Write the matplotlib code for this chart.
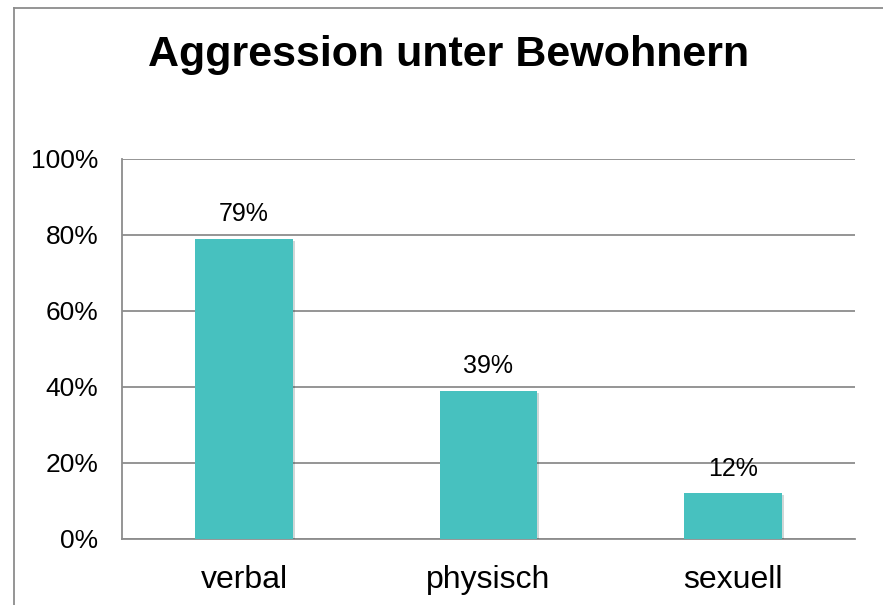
import matplotlib.pyplot as plt
from matplotlib.lines import Line2D
import matplotlib.patheffects as pe

plt.rcParams['font.family'] = ['Liberation Sans', 'DejaVu Sans']

categories = ["verbal", "physisch", "sexuell"]
values = [79, 39, 12]
yticks = [0, 20, 40, 60, 80, 100]

W, H = 883, 605
fig = plt.figure(figsize=(W / 100, H / 100), dpi=100)
ax = fig.add_axes([122 / W, 66 / H, 733 / W, 380 / H])

grid_col = "#8c8c8c"
bars = ax.bar(range(len(categories)), values, width=0.4, color="#47C1BF", zorder=3)
for b in bars:
    b.set_path_effects([pe.SimplePatchShadow(offset=(1.5, -1.5), alpha=0.2), pe.Normal()])

for i, v in enumerate(values):
    ax.text(i, v + 3.3, f"{v}%", ha="center", va="bottom", fontsize=18)

ax.set_xlim(-0.5, len(categories) - 0.5)
ax.set_ylim(0, 100)
ax.set_yticks(yticks)
ax.set_yticklabels([f"{t}%" for t in yticks], fontsize=19)
ax.set_xticks(range(len(categories)))
ax.set_xticklabels(categories, fontsize=23)
ax.tick_params(axis="y", length=0, pad=17)
ax.tick_params(axis="x", length=0, pad=19)
ax.yaxis.grid(True, color=grid_col, linewidth=1.3, zorder=0)
for s in ["top", "right"]:
    ax.spines[s].set_visible(False)
for s in ["left", "bottom"]:
    ax.spines[s].set_color(grid_col)
    ax.spines[s].set_linewidth(1.3)

fig.text(449 / W, 1 - 55 / H, "Aggression unter Bewohnern", ha="center", va="center",
         fontsize=31, fontweight="bold")

# outer frame (only top and left edges are visible)
fig.add_artist(Line2D([14 / W, 1], [1 - 8 / H, 1 - 8 / H], color="#8c8c8c", lw=1.3,
                      transform=fig.transFigure))
fig.add_artist(Line2D([14 / W, 14 / W], [0, 1 - 8 / H], color="#8c8c8c", lw=1.3,
                      transform=fig.transFigure))

fig.savefig("out.png", dpi=100)
